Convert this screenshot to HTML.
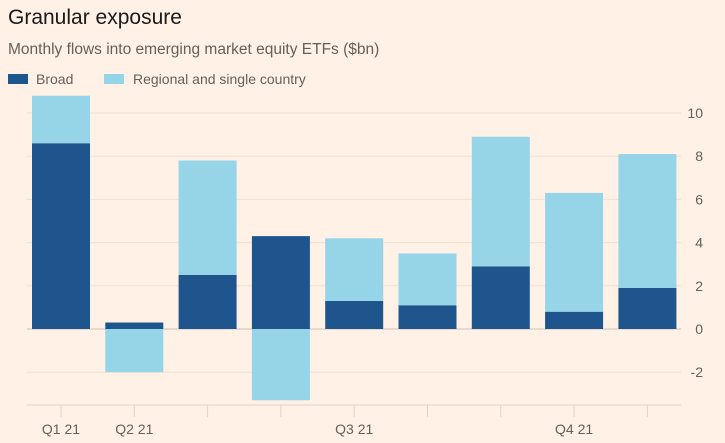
<!DOCTYPE html>
<html><head><meta charset="utf-8"><style>
body{margin:0;background:#fff1e5;font-family:"Liberation Sans",sans-serif;}
svg{display:block}
</style></head><body>
<svg width="725" height="443">
<rect width="725" height="443" fill="#fff1e5"/>
<text x="8" y="24" font-size="21" fill="#1a1a1a">Granular exposure</text>
<text x="8" y="54" font-size="15.5" fill="#66605c">Monthly flows into emerging market equity ETFs ($bn)</text>
<g>
<rect x="8" y="74" width="20" height="10" fill="#1e558c"/>
<text x="36" y="84" font-size="14" fill="#66605c">Broad</text>
<rect x="104" y="74" width="20" height="10" fill="#96d4e8"/>
<text x="133" y="84" font-size="14" fill="#66605c">Regional and single country</text>
</g>
<g id="grid"></g><g id="bars"></g><g id="axis"></g>
</svg>
<script>
const months=["Jan","Feb","Mar","Apr","May","Jun","Jul","Aug","Sep"];
const broad=[8.6,0.3,2.5,4.3,1.3,1.1,2.9,0.8,1.9];
const regional=[2.2,-2.0,5.3,-3.3,2.9,2.4,6.0,5.5,6.2];
const yTicks=[-2,0,2,4,6,8,10];
const qLabels=[["Q1 21",0],["Q2 21",1],["Q3 21",4],["Q4 21",7]];
const NS="http://www.w3.org/2000/svg";
function y(v){return 329-v*21.6;}
function xc(i){return 61+i*73.3;}
const bw=58;
function mk(t,a,p){const e=document.createElementNS(NS,t);for(const k in a)e.setAttribute(k,a[k]);p.appendChild(e);return e;}
const grid=document.getElementById('grid'),bars=document.getElementById('bars'),axis=document.getElementById('axis');
yTicks.forEach(v=>{
 const l=mk('line',{x1:27,x2:681,y1:y(v),y2:y(v),stroke:v===0?'#ccc1b7':'#f2dfd0','stroke-width':1},grid);
 
 
 const t=mk('text',{x:703,y:y(v)+5,'text-anchor':'end','font-size':14,fill:'#66605c'},grid);
 t.textContent=v;
 
 
});
months.forEach((m,i)=>{
 const b=broad[i],r=regional[i];
 const x=xc(i)-bw/2;
 const rb=mk('rect',{x:x,y:y(Math.max(b,0)),width:bw,height:Math.abs(b)*21.6,fill:'#1e558c'},bars);
 
 
 let y1,y2;
 if(r>=0){y1=y(b+r);y2=y(b);}else{y1=y(0);y2=y(r);}
 const rr=mk('rect',{x:x,y:y1,width:bw,height:y2-y1,fill:'#96d4e8'},bars);
 
 
 const tk=mk('line',{x1:xc(i),x2:xc(i),y1:405,y2:417,stroke:'#e0d3c8'},axis);
 
 
});
const al=mk('line',{x1:27,x2:681,y1:405,y2:405,stroke:'#e0d3c8'},axis);


qLabels.forEach(q=>{
 const t=mk('text',{x:xc(q[1]),y:434,'text-anchor':'middle','font-size':14,fill:'#66605c'},axis);
 t.textContent=q[0];
 
 
});
</script>
</body></html>
